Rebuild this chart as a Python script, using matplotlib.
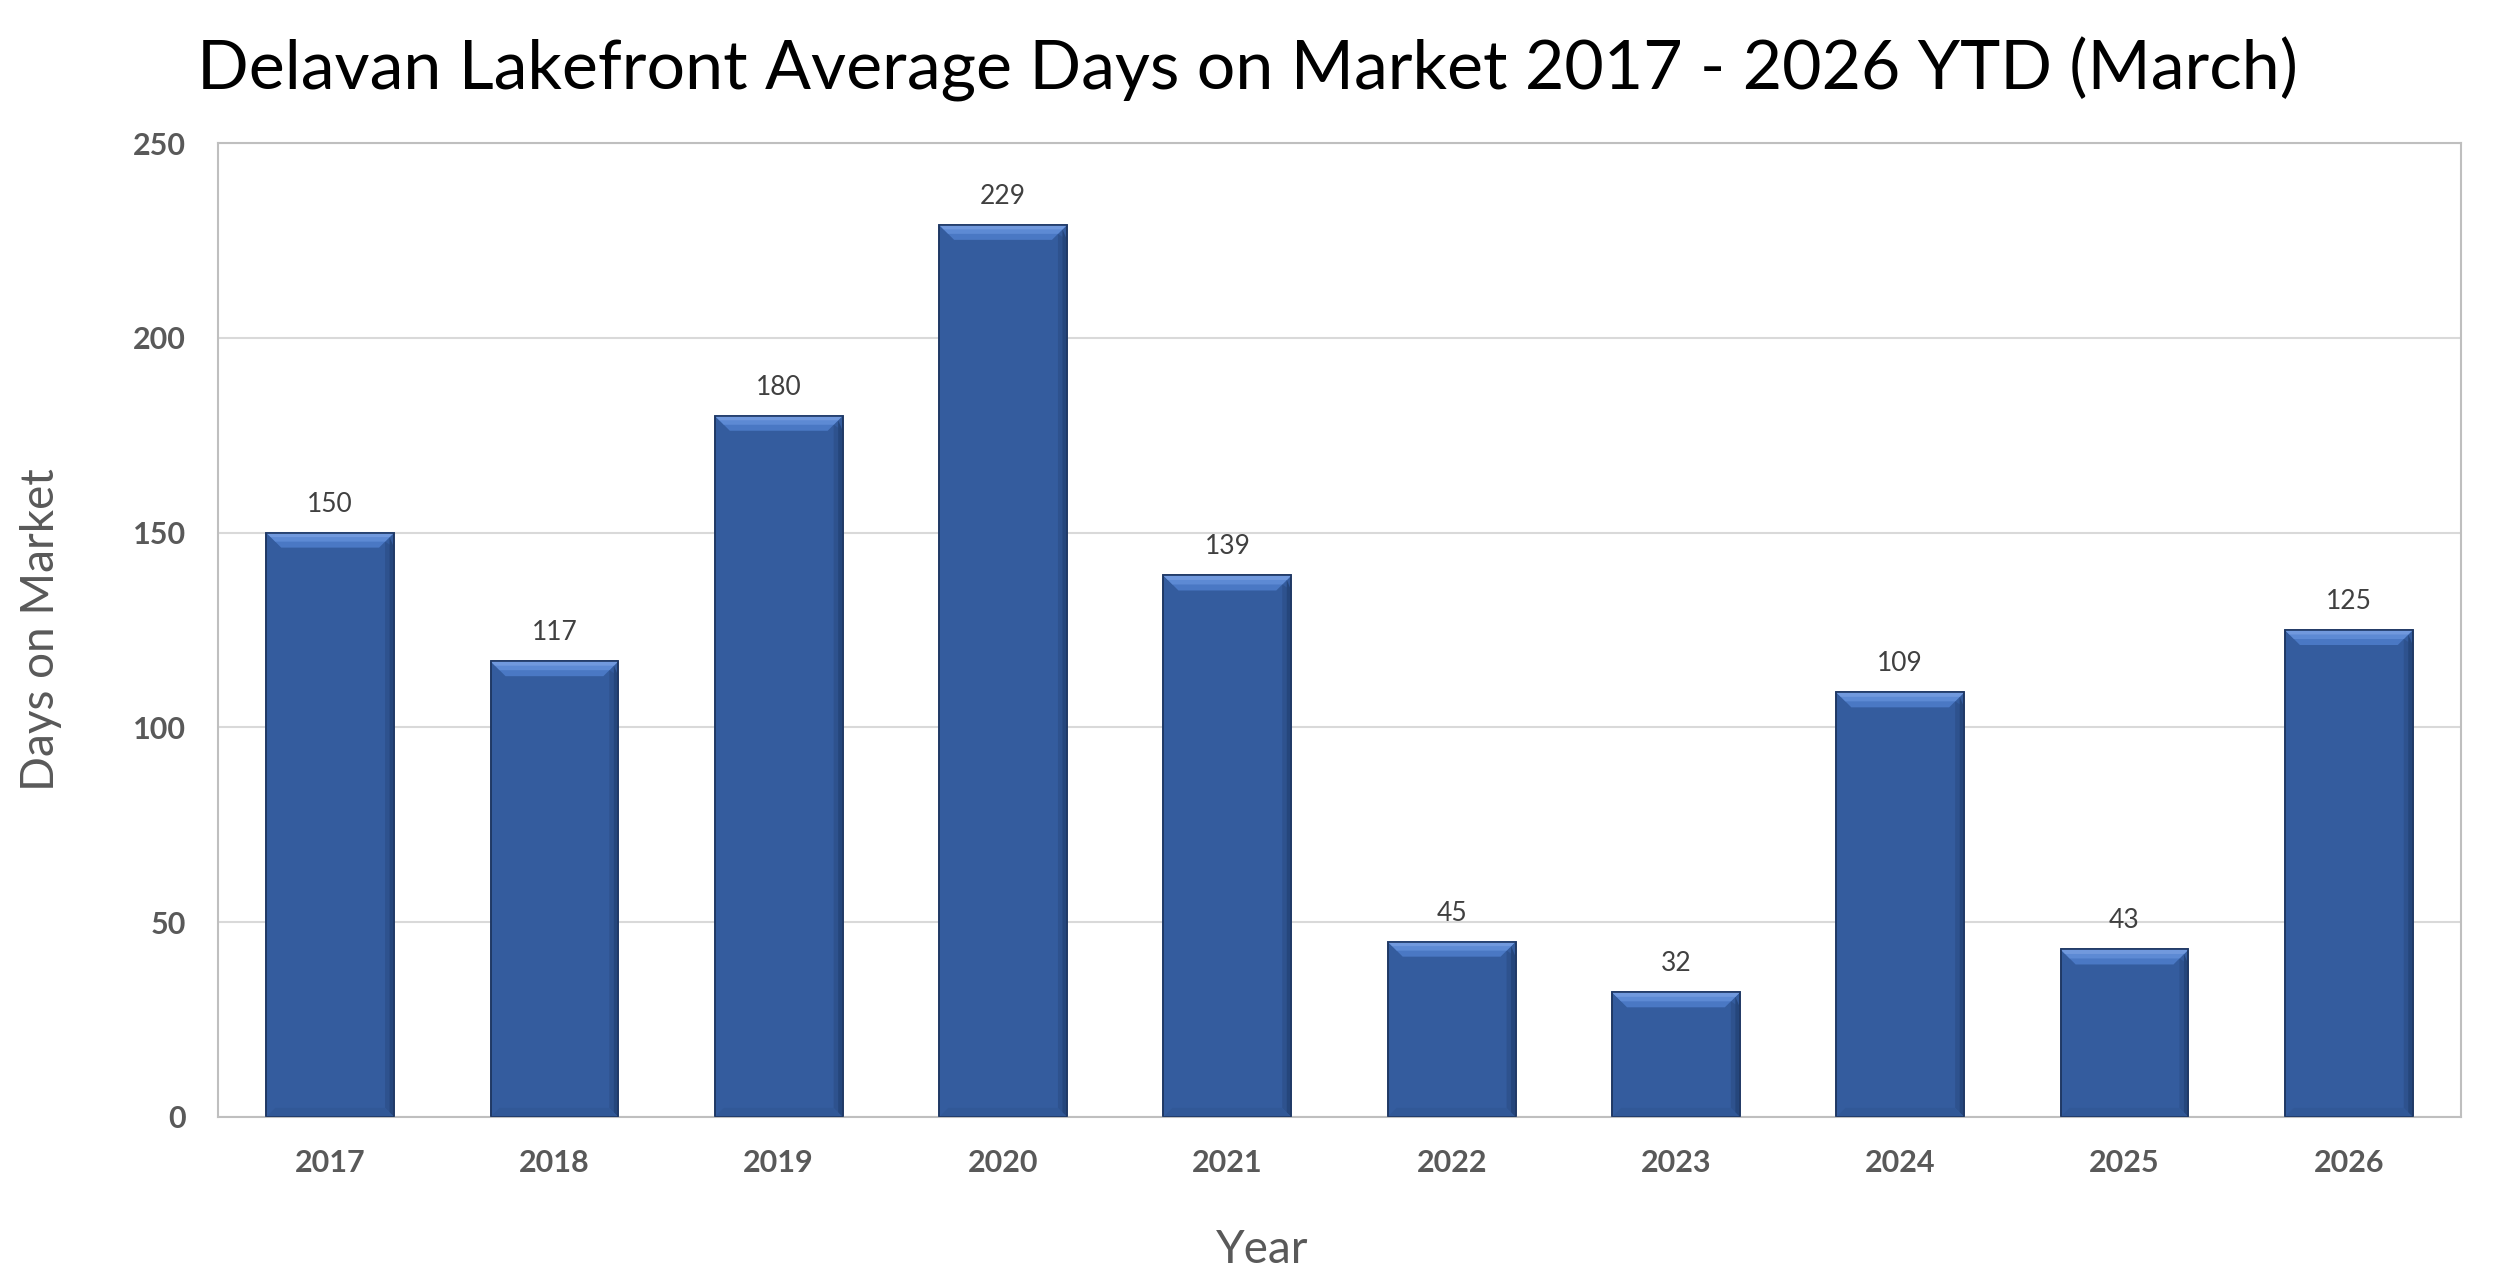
import matplotlib.pyplot as plt
from matplotlib.patches import Polygon
import numpy as np

years = ['2017', '2018', '2019', '2020', '2021', '2022', '2023', '2024', '2025', '2026']
days = [150, 117, 180, 229, 139, 45, 32, 109, 43, 125]

plt.rcParams['font.family'] = ['Lato', 'DejaVu Sans']

fig = plt.figure(figsize=(25, 12.83), dpi=100)
ax = fig.add_axes([0.0872, 0.1294, 0.8972, 0.7591])

x = np.arange(len(years))
bars = ax.bar(x, days, width=0.57, color='#345C9E', edgecolor='#1F3864',
              linewidth=1.2, zorder=2)
ax.set_xlim(-0.5, len(years) - 0.5)
ax.set_ylim(0, 250)
ax.set_yticks(range(0, 251, 50))

# bevel look on each bar (about 15 px deep)
fig.canvas.draw()
bb = ax.get_window_extent()
dx = 15 * len(years) / bb.width
dy = 15 * 250 / bb.height
for b in bars:
    x0, w, h = b.get_x(), b.get_width(), b.get_height()
    x1 = x0 + w
    ax.add_patch(Polygon([(x0, h), (x1, h), (x1 - dx, h - dy), (x0 + dx, h - dy)],
                         closed=True, facecolor='#4A78C4', edgecolor='none', zorder=3))
    ax.add_patch(Polygon([(x0, h), (x1, h), (x1 - dx * 0.6, h - dy * 0.6), (x0 + dx * 0.6, h - dy * 0.6)],
                         closed=True, facecolor='#5D8AD4', edgecolor='none', zorder=3))
    ax.add_patch(Polygon([(x0, h), (x1, h), (x1 - dx * 0.3, h - dy * 0.3), (x0 + dx * 0.3, h - dy * 0.3)],
                         closed=True, facecolor='#7199DD', edgecolor='none', zorder=3))
    ax.add_patch(Polygon([(x1, h - dy), (x1, 0), (x1 - dx * 0.6, dy * 0.6), (x1 - dx * 0.6, h - dy * 0.6)],
                         closed=True, facecolor='#2E528E', edgecolor='none', zorder=3))
    ax.add_patch(Polygon([(x1, h - dy), (x1, 0), (x1 - dx * 0.3, dy * 0.3), (x1 - dx * 0.3, h - dy * 0.3)],
                         closed=True, facecolor='#25467C', edgecolor='none', zorder=3))
    ax.add_patch(Polygon([(x0, 0), (x1, 0), (x1 - dx * 0.6, dy * 0.6), (x0 + dx * 0.6, dy * 0.6)],
                         closed=True, facecolor='#315897', edgecolor='none', zorder=3))
    ax.add_patch(Polygon([(x0, 0), (x0, h), (x1, h), (x1, 0)], closed=True,
                         facecolor='none', edgecolor='#1F3864', linewidth=1.2, zorder=4))
    ax.text(b.get_x() + w / 2, h + 5.4, str(int(h)), ha='center', va='baseline',
            fontsize=19, color='#404040')

ax.yaxis.grid(True, color='#D9D9D9', linewidth=1.5, zorder=0)
ax.set_axisbelow(True)
for s in ax.spines.values():
    s.set_color('#BFBFBF')
    s.set_linewidth(1.5)

ax.set_xticks(x)
ax.set_xticklabels(years)
ax.tick_params(axis='both', length=0, labelsize=22, labelcolor='#595959', pad=23)
for t in ax.get_xticklabels() + ax.get_yticklabels():
    t.set_fontweight('bold')

fig.text(0.499, 0.9299, 'Delavan Lakefront Average Days on Market 2017 - 2026 YTD (March)',
         ha='center', va='baseline', fontsize=49, color='black')
fig.text(0.0165, 0.509, 'Days on Market', rotation=90, ha='center', va='center',
         fontsize=33, color='#595959')
fig.text(0.505, 0.0255, 'Year', ha='center', va='center', fontsize=33, color='#595959')

fig.savefig('out.png', dpi=100)
